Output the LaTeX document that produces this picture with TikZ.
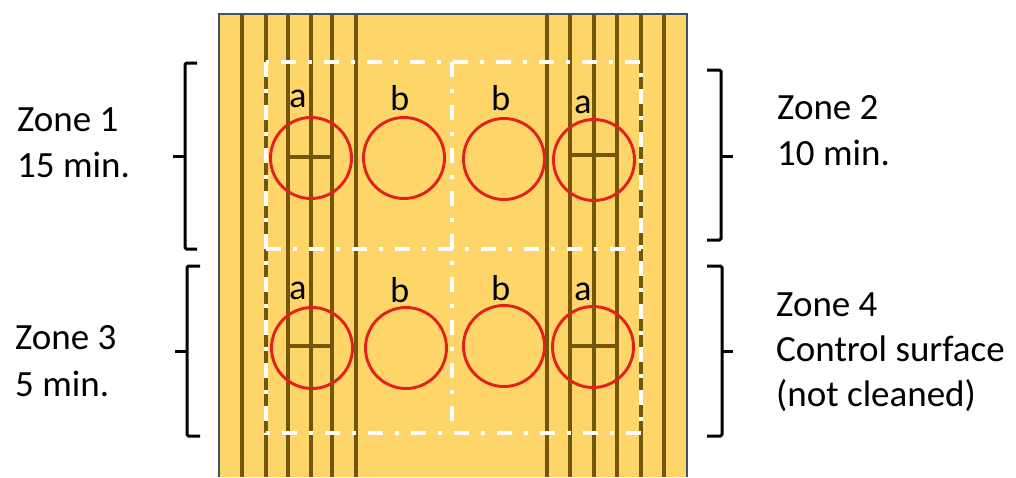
\documentclass[tikz,border=0pt]{standalone}
\usepackage{fontspec}
\setmainfont{Carlito}
\newfontfamily\labfont{Lato}
\definecolor{panel}{RGB}{254,213,104}
\definecolor{wood}{RGB}{115,86,8}
\definecolor{ring}{RGB}{226,32,28}
\definecolor{edge}{RGB}{62,82,104}
\tikzset{
  grain/.style={wood,line width=3.4pt},
  zonegrid/.style={white,line width=3.6pt,dash pattern=on 15pt off 12pt on 4pt off 12pt},
  ringnode/.style={circle,draw=ring,line width=2.9pt,minimum size=81pt,inner sep=0pt},
  lab/.style={anchor=base,inner sep=0pt,font=\labfont\fontsize{34}{34}\selectfont},
  zonetxt/.style={anchor=base west,inner sep=0pt,font=\fontsize{37}{44}\selectfont},
  bracket/.style={black,line width=3pt,rounded corners=1.5pt}
}
\begin{document}
\begin{tikzpicture}[x=1pt,y=-1pt]
\useasboundingbox (0,0) rectangle (1016,477);
% panel
\fill[panel] (219,14) rectangle (687,477);
% wood grain lines
\foreach \x in {242,266,288,311,332,356,547,570,594,617,641,664}
  \draw[grain] (\x,15) -- (\x,477);
% zone grid
\draw[zonegrid] (266,62) rectangle (641,433);
\draw[zonegrid] (452,62) -- (452,433);
\draw[zonegrid] (266,249) -- (641,249);
% crosshairs
\draw[grain] (288,157) -- (332,157);
\draw[grain] (570,155) -- (617,155);
\draw[grain] (288,346) -- (332,346);
\draw[grain] (570,346) -- (617,346);
% circles
\node[ringnode] (c1) at (311,158) {};
\node[ringnode] (c2) at (404,158) {};
\node[ringnode] (c3) at (504,159) {};
\node[ringnode] (c4) at (594,160) {};
\node[ringnode] (c5) at (312,348) {};
\node[ringnode] (c6) at (406,348) {};
\node[ringnode] (c7) at (504,346) {};
\node[ringnode] (c8) at (593,347) {};
% letters
\node[lab] (l1) at (298,107) {a};
\node[lab] (l2) at (400,110) {b};
\node[lab] (l3) at (501,110) {b};
\node[lab] (l4) at (583,113) {a};
\node[lab] (l5) at (298,299) {a};
\node[lab] (l6) at (400,302) {b};
\node[lab] (l7) at (501,300) {b};
\node[lab] (l8) at (583,300) {a};
% panel border
\draw[edge,line width=2pt] (219,477) -- (219,14) -- (687,14) -- (687,477);
% brackets
\draw[bracket] (197,63) -- (185,63) -- (185,249) -- (197,249);
\draw[bracket] (185,156) -- (173,156);
\draw[bracket] (200,266) -- (187,266) -- (187,436) -- (200,436);
\draw[bracket] (187,351) -- (175,351);
\draw[bracket] (707,70) -- (721,70) -- (721,240) -- (707,240);
\draw[bracket] (721,156) -- (733,156);
\draw[bracket] (707,266) -- (722,266) -- (722,436) -- (707,436);
\draw[bracket] (722,351) -- (733,351);
% zone texts
\node[zonetxt] (z1a) at (17,131) {Zone 1};
\node[zonetxt] (z1b) at (17,177) {15 min.};
\node[zonetxt] (z2a) at (777,119) {Zone 2};
\node[zonetxt] (z2b) at (777,165) {10 min.};
\node[zonetxt] (z3a) at (15,349) {Zone 3};
\node[zonetxt] (z3b) at (15,396) {5 min.};
\node[zonetxt] (z4a) at (776,316) {Zone 4};
\node[zonetxt] (z4b) at (776,361) {Control surface};
\node[zonetxt] (z4c) at (776,406) {(not cleaned)};
\end{tikzpicture}
\end{document}
